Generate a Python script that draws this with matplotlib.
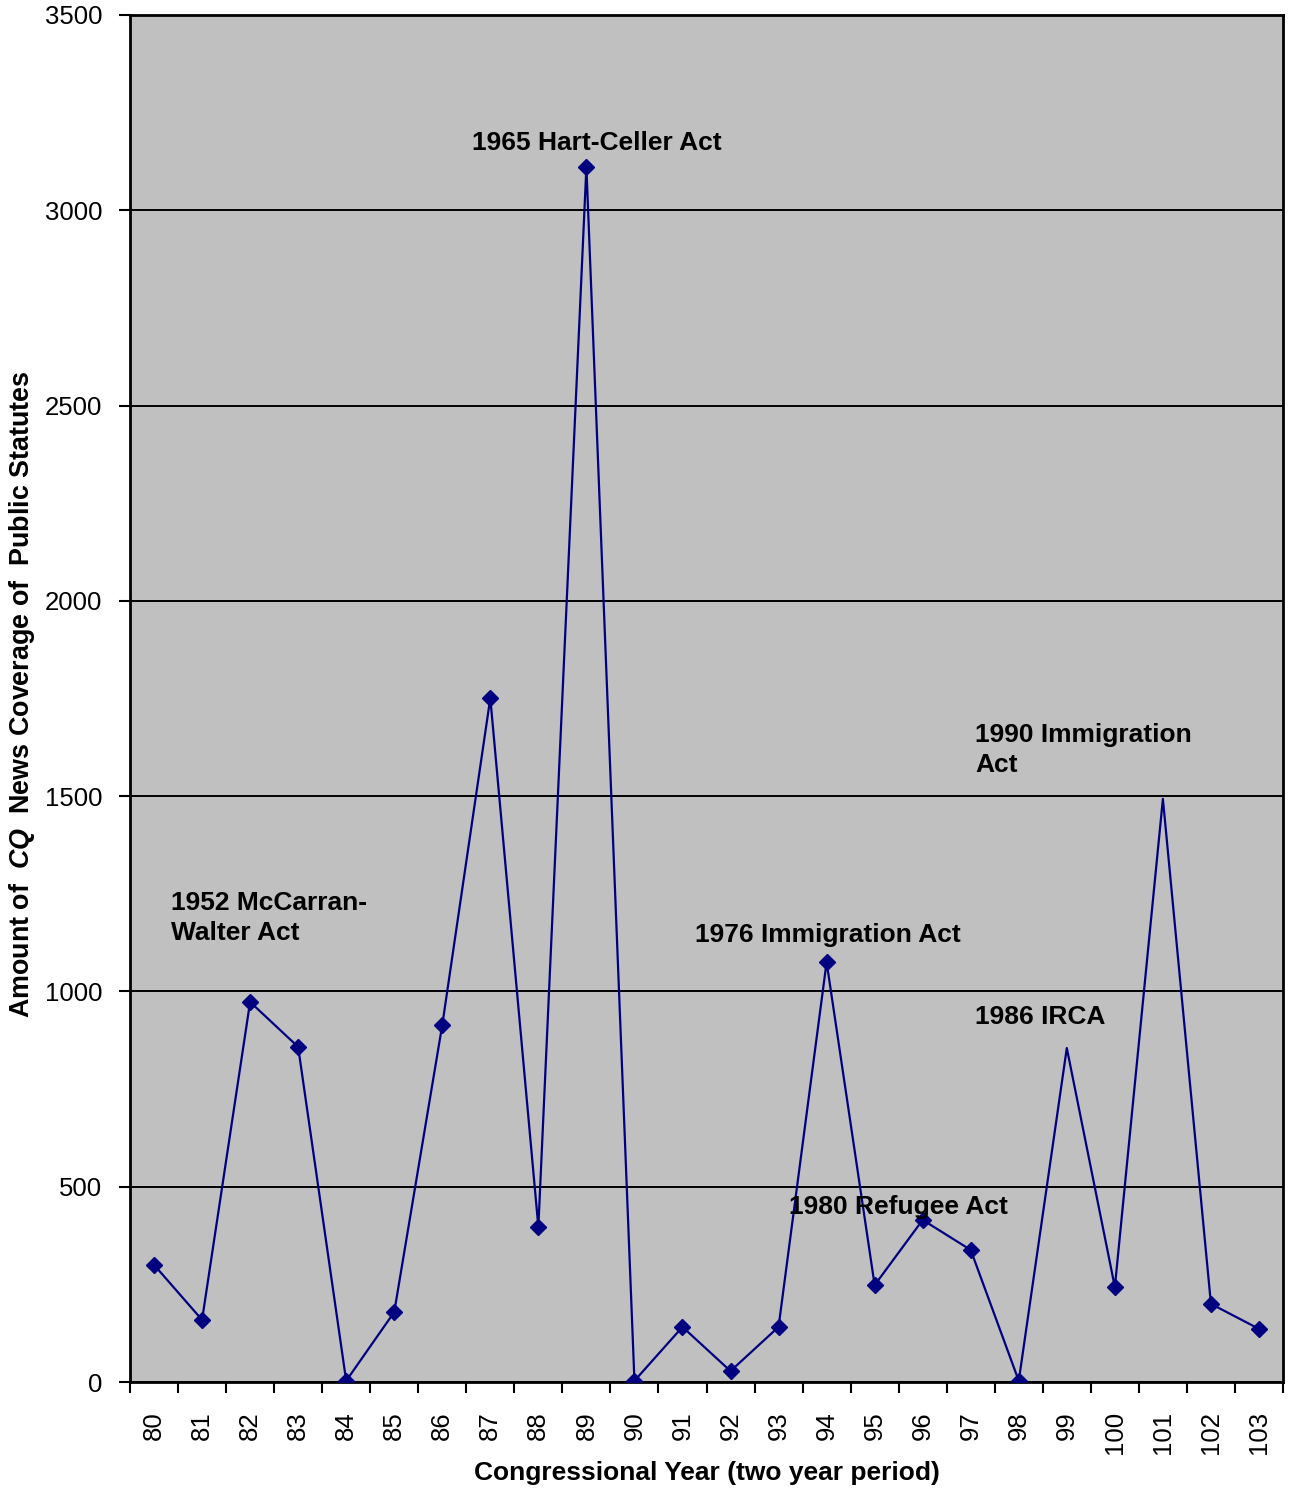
import matplotlib
matplotlib.use("Agg")
import matplotlib.pyplot as plt

plt.rcParams['font.family'] = ['Liberation Sans', 'DejaVu Sans']
plt.rcParams['mathtext.fontset'] = 'custom'
plt.rcParams['mathtext.it'] = 'Liberation Sans:italic:bold'
plt.rcParams['mathtext.rm'] = 'Liberation Sans:bold'

congress = ["80", "81", "82", "83", "84", "85", "86", "87", "88", "89", "90", "91",
            "92", "93", "94", "95", "96", "97", "98", "99", "100", "101", "102", "103"]
coverage = [300, 159, 973, 858, 3, 179, 914, 1751, 397, 3111, 3, 141,
            28, 141, 1075, 248, 415, 338, 3, 855, 243, 1493, 200, 136]
no_marker = ["99", "101"]

annotations = [
    ("1965 Hart-Celler Act", 6.61, 3172),
    ("1952 McCarran-\nWalter Act", 0.35, 1188),
    ("1976 Immigration Act", 11.27, 1144),
    ("1990 Immigration\nAct", 17.09, 1618),
    ("1986 IRCA", 17.09, 934),
    ("1980 Refugee Act", 13.22, 448),
]
yticks = [0, 500, 1000, 1500, 2000, 2500, 3000, 3500]

W, H = 1292, 1492
fig = plt.figure(figsize=(W / 100, H / 100), dpi=100)
ax = fig.add_axes([130 / W, (H - 1382) / H, (1283 - 130) / W, (1382 - 15) / H])
ax.set_facecolor('#C0C0C0')

x = list(range(len(congress)))
marks = [i for i, c in enumerate(congress) if c not in no_marker]
ax.plot(x, coverage, color='#000080', lw=1.6, marker='D', ms=8.5,
        markevery=marks, mfc='#000080', mec='#000080', zorder=3)

ax.set_xlim(-0.5, len(congress) - 0.5)
ax.set_ylim(0, 3500)
ax.set_yticks(yticks)
ax.set_yticklabels([str(v) for v in yticks])
ax.yaxis.grid(True, color='black', lw=1.4)
ax.set_axisbelow(True)

ax.set_xticks([i - 0.5 for i in range(len(congress) + 1)])
ax.set_xticklabels([])
ax.set_xticks(x, minor=True)
ax.set_xticklabels(congress, minor=True, rotation=90, fontsize=18.5)
ax.tick_params(axis='x', which='major', length=8, width=1.5, direction='out')
ax.tick_params(axis='x', which='minor', length=0, pad=21)
ax.tick_params(axis='y', length=8, width=1.5, direction='out', labelsize=18.5, pad=12)

for s in ax.spines.values():
    s.set_linewidth(2)
    s.set_color('black')

for txt, tx, ty in annotations:
    ax.text(tx, ty, txt, fontsize=19, fontweight='bold', ha='left', va='center',
            linespacing=1.3, zorder=4)

fig.text(707 / W, 1 - 1473 / H, "Congressional Year (two year period)", fontsize=19,
         fontweight='bold', ha='center', va='center')
fig.text(22 / W, 1 - 694 / H, r"Amount of  $\mathit{CQ}$  News Coverage of  Public Statutes",
         fontsize=19.4, fontweight='bold', ha='center', va='center', rotation=90)

fig.savefig("out.png", dpi=100)
